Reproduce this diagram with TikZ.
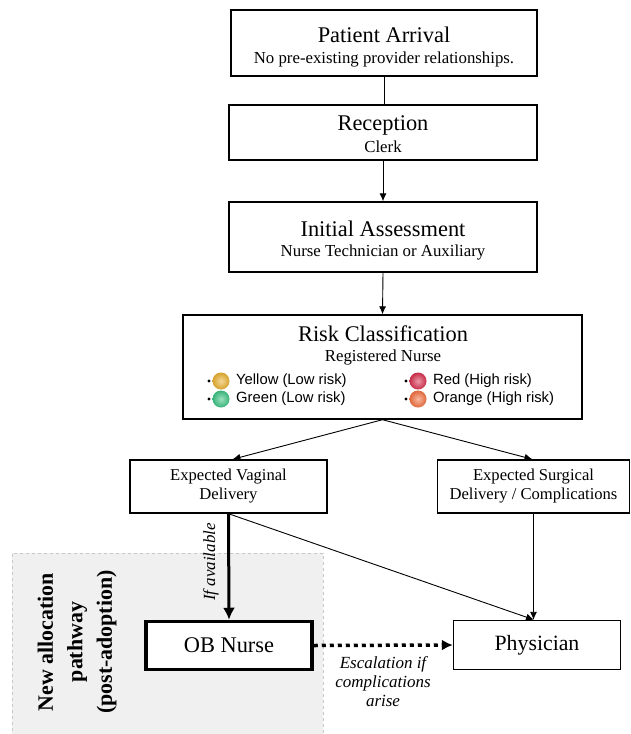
\documentclass[tikz,border=0pt]{standalone}
\usepackage{fontspec}
\setmainfont{Liberation Serif}
\newfontfamily\arialfont{Liberation Sans}
\usetikzlibrary{arrows.meta,calc}
\begin{document}
\begin{tikzpicture}[x=1pt,y=-1pt,
  box/.style={draw,line width=1.4pt,fill=white,inner sep=0pt,align=center},
  conn/.style={line width=0.9pt,-{Latex[length=8pt,width=7pt]}},
  thickconn/.style={line width=3pt,-{Latex[length=12pt,width=12pt]}},
  title/.style={font=\fontsize{22.4}{25}\selectfont},
  sub/.style={font=\fontsize{16.8}{19}\selectfont},
  item/.style={font=\arialfont\fontsize{14.8}{17}\selectfont,anchor=west,inner sep=0pt},
  lbl/.style={font=\itshape\fontsize{17}{19}\selectfont,align=center}]
\useasboundingbox (0,0) rectangle (630,734);
% gray region
\node[draw=black!22,dashed,fill=black!6,line width=1pt,minimum width=311pt,minimum height=181pt,inner sep=0pt] (region) at (167.5,643.5) {};
\node[rotate=90,font=\bfseries\fontsize{21.9}{29.5}\selectfont,align=center] (regionlbl) at (77,642) {New allocation\\pathway\\(post-adoption)};
% boxes
\node[box,minimum width=306pt,minimum height=66pt] (arr) at (384,43) {};
\node[title] (arrT) at (384,35) {Patient Arrival};
\node[sub] (arrS) at (384,59) {No pre-existing provider relationships.};
\node[box,minimum width=308pt,minimum height=55pt] (rec) at (383,132.5) {};
\node[title] (recT) at (383,125) {Reception};
\node[sub] (recS) at (383,147) {Clerk};
\node[box,minimum width=308pt,minimum height=70pt] (ini) at (383,237) {};
\node[title] (iniT) at (383,229) {Initial Assessment};
\node[sub] (iniS) at (383,252) {Nurse Technician or Auxiliary};
\node[box,minimum width=399pt,minimum height=104pt] (risk) at (382.5,367) {};
\node[title] (riskT) at (383,334) {Risk Classification};
\node[sub] (riskS) at (383,357) {Registered Nurse};
% bullets
\definecolor{cy}{HTML}{E8B030}
\definecolor{cg}{HTML}{3CC382}
\definecolor{cr}{HTML}{D8304F}
\definecolor{co}{HTML}{F37040}
\foreach \nm/\x/\y/\col/\txt in {y/209/381/cy/Yellow (Low risk),g/209/399/cg/Green (Low risk),r/406/381/cr/Red (High risk),o/406/399/co/Orange (High risk)}{
  \fill (\x,\y) circle (1.6pt);
  \shade[inner color=\col!50!white,outer color=\col!92!black] (\x+12,\y) circle (8.5pt);
  \node[item] (it\nm) at (\x+27,\y) {\txt};
}
\node[box,minimum width=197pt,minimum height=53pt,font=\fontsize{16.6}{19}\selectfont] (vag) at (228.5,486.5) {Expected Vaginal\\Delivery};
\node[box,minimum width=192pt,minimum height=53pt,font=\fontsize{16.6}{19}\selectfont] (sur) at (533.5,486.5) {Expected Surgical\\Delivery / Complications};
\node[box,line width=3.5pt,minimum width=166pt,minimum height=48pt,font=\fontsize{22.4}{25}\selectfont] (ob) at (229,645.5) {OB Nurse};
\node[box,minimum width=167pt,minimum height=49pt,font=\fontsize{21.8}{25}\selectfont] (phy) at (537,645) {Physician};
% connectors
\draw[line width=0.9pt] (arr.south) -- (arr.south |- rec.north);
\draw[conn] (rec.south) -- (ini.north);
\draw[conn] (ini.south) -- (risk.north);
\draw[conn] (risk.south) -- ($(vag.north)+(4,0)$);
\draw[conn] (risk.south) -- ($(sur.north)+(-1,0)$);
\draw[thickconn] (vag.south) -- (ob.north);
\draw[conn] (vag.south) -- ($(phy.north)+(-3,0)$);
\draw[conn] (sur.south) -- (sur.south |- phy.north);
\draw[line width=3.5pt,dash pattern=on 4pt off 4pt,-{Latex[length=11pt,width=11pt]}] (ob.east) -- (phy.west);
\node[lbl,rotate=90] (avail) at (211,562) {If available};
\node[lbl] (esc) at (383,682) {Escalation if\\complications\\arise};
\end{tikzpicture}
\end{document}
